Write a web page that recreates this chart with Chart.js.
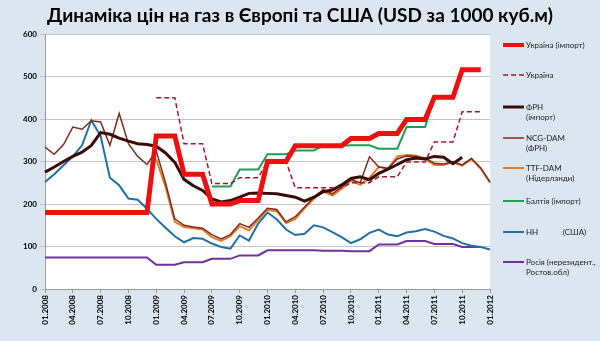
<!DOCTYPE html>
<html>
<head>
<meta charset="utf-8">
<script src="https://cdn.jsdelivr.net/npm/chart.js@4"></script>
<style>
  html, body { margin: 0; padding: 0; background: #dce6f1; }
  #wrap { width: 600px; height: 341px; }
</style>
</head>
<body>
<div id="wrap"><canvas id="gasChart" width="600" height="341"></canvas></div>
<script>
var chartTitle = 'Динаміка цін на газ в Європі та США (USD за 1000 куб.м)';

var months = [
  '01.2008','02.2008','03.2008','04.2008','05.2008','06.2008','07.2008','08.2008','09.2008','10.2008','11.2008','12.2008',
  '01.2009','02.2009','03.2009','04.2009','05.2009','06.2009','07.2009','08.2009','09.2009','10.2009','11.2009','12.2009',
  '01.2010','02.2010','03.2010','04.2010','05.2010','06.2010','07.2010','08.2010','09.2010','10.2010','11.2010','12.2010',
  '01.2011','02.2011','03.2011','04.2011','05.2011','06.2011','07.2011','08.2011','09.2011','10.2011','11.2011','12.2011',
  '01.2012'
];

var yTicks = [0, 100, 200, 300, 400, 500, 600];

// Україна (імпорт)
var ukraineImport = [
  180,180,180,180,180,180,180,180,180,180,180,180,
  360,360,360,270,270,270,200,200,200,208,208,208,
  300,300,300,337,337,337,337,337,337,354,354,354,
  366,366,366,399,399,399,451,451,451,516,516,516,
  null
];

// Україна
var ukraine = [
  null,null,null,null,null,null,null,null,null,null,null,null,
  450,450,450,342,342,342,248,248,248,262,262,262,
  300,300,300,238,238,238,238,238,238,250,250,250,
  264,264,264,299,299,299,346,346,346,417,417,417,
  null
];

// ФРН (імпорт)
var germanyImport = [
  275,287,300,312,322,338,368,364,355,348,342,340,
  336,320,298,258,243,232,212,205,208,216,225,226,
  225,224,220,216,207,216,229,233,245,260,264,257,
  272,282,293,304,308,306,312,310,295,310,null,null,
  null
];

// NCG-DAM (ФРН)
var ncgDam = [
  334,317,340,381,376,396,393,338,413,342,312,293,
  325,250,165,150,146,143,128,118,128,154,145,167,
  190,187,158,170,193,216,234,224,240,258,250,311,
  287,284,306,313,312,308,296,294,300,292,307,285,
  252
];

// TTF-DAM (Нідерланди)
var ttfDam = [
  null,null,null,null,null,null,null,null,null,null,null,null,
  305,240,158,146,143,140,122,113,124,148,138,162,
  186,183,155,165,190,212,230,220,236,255,245,262,
  287,283,312,315,314,306,292,292,298,290,306,283,
  250
];

// Балтія (імпорт)
var balticImport = [
  null,null,null,null,null,null,null,null,null,null,null,null,
  null,null,null,null,null,null,241,241,241,281,281,281,
  317,317,317,326,326,326,337,337,337,338,338,338,
  330,330,330,381,381,381,451,451,451,null,null,null,
  null
];

// НН (США)
var henryHub = [
  252,270,291,312,338,397,360,262,244,213,210,189,
  165,144,124,110,120,118,107,99,95,126,114,154,
  180,164,140,127,130,150,145,134,122,108,117,132,
  140,128,124,133,136,141,135,125,119,108,102,99,
  93
];

// Росія (нерезидент., Ростов.обл)
var russia = [
  74,74,74,74,74,74,74,74,74,74,74,74,
  57,57,57,63,63,63,71,71,71,79,79,79,
  91,91,91,91,91,91,90,90,90,89,89,89,
  105,105,105,113,113,113,106,106,106,99,99,99,
  null
];

var seriesNames = [
  ['Україна (імпорт)'],
  ['Україна'],
  ['ФРН', '(імпорт)'],
  ['NCG-DAM', '(ФРН)'],
  ['TTF-DAM', '(Нідерланди)'],
  ['Балтія (імпорт)'],
  ['НН            (США)'],
  ['Росія (нерезидент.,', 'Ростов.обл)']
];

function line(name, data, color, width, dash) {
  return {
    label: name.join(' '),
    data: data,
    borderColor: color,
    backgroundColor: color,
    borderWidth: width,
    borderDash: dash || [],
    pointRadius: 0,
    pointHoverRadius: 0,
    tension: 0,
    fill: false,
    spanGaps: false
  };
}

// title and legend on the right side, painted on the canvas
var decorations = {
  id: 'decorations',
  beforeDraw: function(chart) {
    var ctx = chart.ctx;
    var a = chart.chartArea;
    ctx.save();
    ctx.fillStyle = '#dce6f1';
    ctx.fillRect(0, 0, chart.width, chart.height);
    ctx.fillStyle = '#ffffff';
    ctx.fillRect(a.left, a.top, a.right - a.left, a.bottom - a.top);
    ctx.restore();
  },
  afterDraw: function(chart) {
    var ctx = chart.ctx;
    ctx.save();
    ctx.fillStyle = '#000000';
    ctx.font = 'bold 19px Lato';
    ctx.textAlign = 'center';
    ctx.textBaseline = 'middle';
    ctx.fillText(chartTitle, 300, 16);

    var rows = [45, 75, 107, 138, 168, 201, 232, 262];
    ctx.font = '8px Lato';
    ctx.textAlign = 'left';
    chart.data.datasets.forEach(function(ds, i) {
      var y = rows[i];
      ctx.strokeStyle = ds.borderColor;
      ctx.lineWidth = Math.min(ds.borderWidth, 4);
      ctx.setLineDash(ds.borderDash);
      ctx.beginPath();
      ctx.moveTo(503, y);
      ctx.lineTo(524, y);
      ctx.stroke();
      ctx.setLineDash([]);
      ctx.fillStyle = '#222222';
      seriesNames[i].forEach(function(t, k) {
        ctx.fillText(t, 526, y + k * 10);
      });
    });
    ctx.restore();
  }
};

var ctx = document.getElementById('gasChart').getContext('2d');
var gasChart = new Chart(ctx, {
  type: 'line',
  data: {
    labels: months,
    datasets: [
      line(seriesNames[0], ukraineImport, '#ee1010', 5),
      line(seriesNames[1], ukraine, '#a3162c', 1.5, [5, 3]),
      line(seriesNames[2], germanyImport, '#3a0c06', 3),
      line(seriesNames[3], ncgDam, '#7b2c20', 1.5),
      line(seriesNames[4], ttfDam, '#e27b2a', 2),
      line(seriesNames[5], balticImport, '#1f9d52', 2),
      line(seriesNames[6], henryHub, '#1f70a6', 2),
      line(seriesNames[7], russia, '#7030a0', 2)
    ]
  },
  options: {
    responsive: false,
    animation: false,
    layout: { padding: { left: 0, right: 110, top: 34, bottom: 0 } },
    plugins: {
      legend: { display: false },
      title: { display: false },
      tooltip: { enabled: false }
    },
    scales: {
      x: {
        grid: { drawOnChartArea: false, color: '#9a9a9a', tickLength: 4 },
        border: { color: '#9a9a9a' },
        ticks: {
          autoSkip: false,
          minRotation: 90,
          maxRotation: 90,
          padding: 2,
          color: '#000000',
          font: { family: 'Lato', size: 8, weight: 'bold' },
          callback: function(v, i) { return i % 3 === 0 ? months[i] : null; }
        },
        afterFit: function(s) { s.height = 52; }
      },
      y: {
        min: 0,
        max: 600,
        afterBuildTicks: function(s) { s.ticks = yTicks.map(function(v) { return { value: v }; }); },
        grid: { color: '#c4c4c4', tickLength: 5 },
        border: { color: '#9a9a9a' },
        ticks: {
          padding: 3,
          color: '#000000',
          font: { family: 'Lato', size: 8, weight: 'bold' }
        },
        afterFit: function(s) { s.width = 45; }
      }
    }
  },
  plugins: [decorations]
});
</script>
</body>
</html>
